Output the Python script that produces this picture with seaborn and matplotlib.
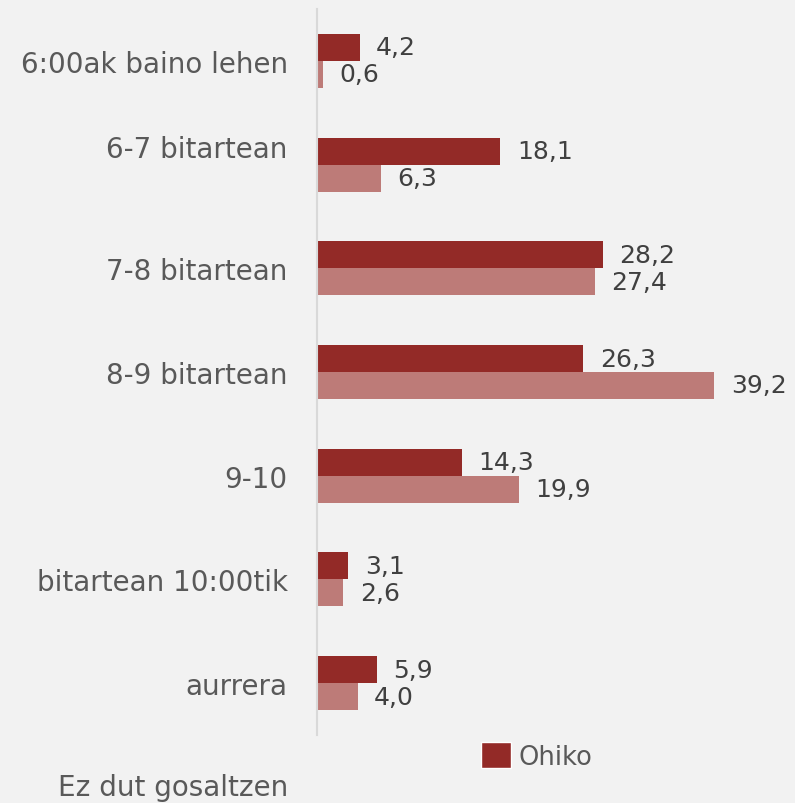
import matplotlib
matplotlib.use("Agg")
import matplotlib.pyplot as plt
import matplotlib.transforms as mtransforms
from matplotlib.patches import Patch
import seaborn as sns
import pandas as pd

# Categories as they appear on the chart
categories = ["6:00ak baino lehen", "6-7 bitartean", "7-8 bitartean", "8-9 bitartean",
              "9-10", "bitartean 10:00tik", "aurrera"]
extra_label = "Ez dut gosaltzen"

ohiko = [4.2, 18.1, 28.2, 26.3, 14.3, 3.1, 5.9]
asteburua = [0.6, 6.3, 27.4, 39.2, 19.9, 2.6, 4.0]

series_names = ["Ohiko", "Asteburua"]
colors = ["#932A27", "#BD7B78"]

df = pd.DataFrame({
    "kategoria": categories * 2,
    "balioa": ohiko + asteburua,
    "seriea": [series_names[0]] * len(ohiko) + [series_names[1]] * len(asteburua),
})

sns.set_style("white")
plt.rcParams["font.family"] = ["DejaVu Sans"]

fig = plt.figure(figsize=(7.95, 8.04), dpi=100, facecolor="#F2F2F2")
ax = fig.add_axes([317 / 795, 1 - 736 / 804, (790 - 317) / 795, (736 - 10) / 804])
ax.set_facecolor("#F2F2F2")

sns.barplot(data=df, x="balioa", y="kategoria", hue="seriea", order=categories,
            hue_order=series_names, palette=colors, width=0.52, orient="h",
            saturation=1, linewidth=0, ax=ax, legend=False)

for cont in ax.containers:
    labels = [f"{b.get_width():.1f}".replace(".", ",") for b in cont]
    ax.bar_label(cont, labels=labels, padding=12, fontsize=18, color="#404040")

ax.set_xlim(0, 46.7)
ax.set_ylim(6.5, -0.5)
ax.set_xlabel("")
ax.set_ylabel("")
ax.set_xticks([])
ax.tick_params(axis="y", length=0, pad=21, labelsize=20, labelcolor="#595959")

for side in ["top", "right", "bottom"]:
    ax.spines[side].set_visible(False)
ax.spines["left"].set_color("#D9D9D9")
ax.spines["left"].set_linewidth(1.5)

# second label sits a bit higher in the original
lab = ax.get_yticklabels()[1]
lab.set_transform(lab.get_transform() + mtransforms.ScaledTranslation(0, 19 / 100, fig.dpi_scale_trans))

trans = mtransforms.blended_transform_factory(ax.transAxes, ax.transData) + \
    mtransforms.ScaledTranslation(-0.29, 0, fig.dpi_scale_trans)
ax.text(0, 7, extra_label, transform=trans, ha="right", va="center",
        fontsize=20, color="#595959", clip_on=False)

handles = [Patch(facecolor=colors[0], label=series_names[0])]
fig.legend(handles=handles, loc="center", bbox_to_anchor=(537 / 795, 1 - 757 / 804),
           frameon=False, fontsize=18.5, labelcolor="#595959", handlelength=1.15,
           handleheight=1.15, handletextpad=0.3)

fig.savefig("out.png", dpi=100, facecolor=fig.get_facecolor())
